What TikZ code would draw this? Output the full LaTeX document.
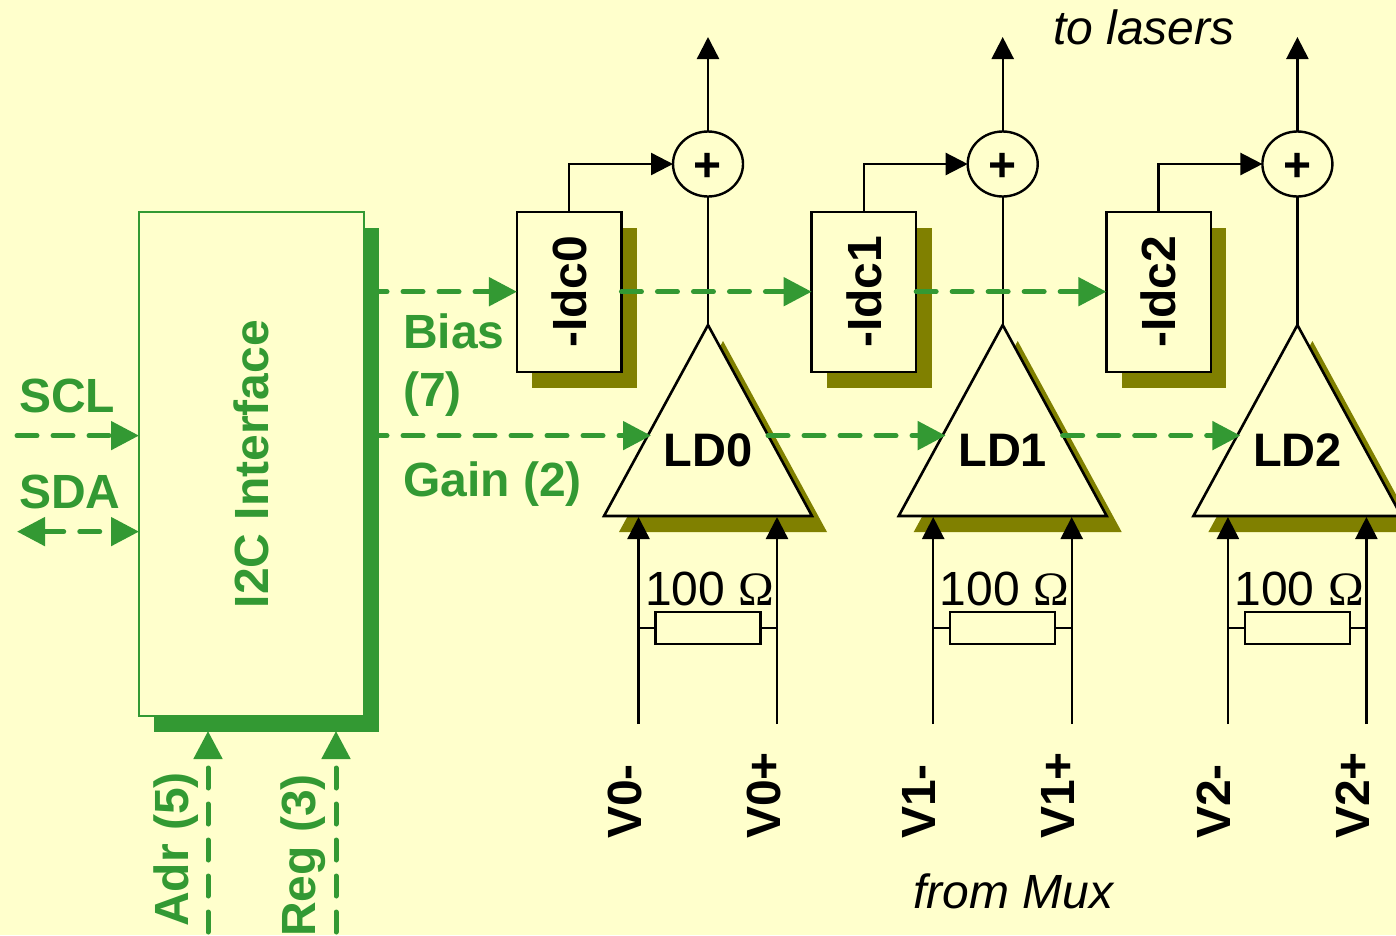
\documentclass[tikz,border=0pt]{standalone}
\usepackage{fontspec}
\setmainfont{Liberation Sans}
\newfontfamily\omegafont{Liberation Serif}
\usetikzlibrary{arrows.meta,shapes.geometric,shadows}
\definecolor{bggelb}{HTML}{FFFFCC}
\definecolor{ifgreen}{HTML}{339933}
\definecolor{ldolive}{HTML}{808000}
\newcommand{\bigtext}{\fontsize{48}{50}\selectfont}
\tikzset{
    wire/.style={line width=2.4pt, -{Triangle[length=22pt,width=22pt]}},
    thinwire/.style={line width=2.2pt},
    bus/.style={ifgreen, line width=5pt, line cap=round, dash pattern=on 20pt off 16pt,
        -{Triangle[length=28pt,width=28pt]}},
    idcbox/.style={draw, line width=2.4pt, fill=bggelb, minimum width=104.5pt, minimum height=160pt,
        inner sep=0pt, outer sep=0pt, font=\bigtext\bfseries,
        general shadow={shadow xshift=15.5pt, shadow yshift=-16pt, fill=ldolive}},
    i2cbox/.style={draw=ifgreen, line width=2pt, fill=bggelb, text=ifgreen, minimum width=225pt,
        minimum height=504pt, inner sep=0pt, outer sep=0pt, font=\bigtext\bfseries,
        general shadow={shadow xshift=15pt, shadow yshift=-16pt, fill=ifgreen}},
    sumnode/.style={draw, ellipse, line width=2.4pt, fill=bggelb, minimum width=70pt, minimum height=65pt,
        inner sep=0pt, outer sep=0pt, font=\bigtext\bfseries},
    resbox/.style={draw, thinwire, fill=bggelb, minimum width=105pt, minimum height=32pt,
        inner sep=0pt, outer sep=0pt},
    lbl/.style={inner sep=0pt, anchor=base west, font=\bigtext},
    grlbl/.style={lbl, text=ifgreen, font=\bigtext\bfseries},
}
\begin{document}
\begin{tikzpicture}[x=1pt, y=-1pt]
    \useasboundingbox (0,0) rectangle (1396,935);
    \clip (0,0) rectangle (1396,935);
    \fill[bggelb] (0,0) rectangle (1396,935);

    % I2C block
    \node[i2cbox] (i2c) at (251.5,464) {\rotatebox{90}{I2C Interface}};

    % the three laser driver channels
    \foreach \i/\x in {0/0, 1/294.7, 2/589.4} {
        \begin{scope}[xshift=\x pt]
            \coordinate (out\i) at (708,37);
            \coordinate (ldtop\i) at (708,325);
            \coordinate (ldin\i) at (651,435.6);
            \coordinate (ldout\i) at (768,435.6);
            \coordinate (ldm\i) at (638.5,517);
            \coordinate (ldp\i) at (777,517);
            \coordinate (vm\i) at (638.5,724);
            \coordinate (vp\i) at (777,724);

            % triangle with its shadow
            \fill[ldolive] (723,341) -- (827,532) -- (619,532) -- cycle;
            \draw[line width=2.6pt, fill=bggelb, line join=miter] (ldtop\i) -- (812,516) -- (604,516) -- cycle;
            \node[inner sep=0pt, font=\fontsize{47}{50}\selectfont\bfseries] (ld\i) at (708,450) {LD\i};

            \node[idcbox] (idc\i) at (569.2,291.7) {\rotatebox{90}{-Idc\i}};
            \node[sumnode] (sum\i) at (708,164) {\raisebox{-3pt}[\height][\depth]{+}};

            \draw[line width=2.4pt] (sum\i.south) -- (ldtop\i);
            \draw[wire] (sum\i.north) -- (out\i);
            \draw[wire] (idc\i.north) |- (sum\i.west);

            % differential inputs with termination
            \draw[wire] (vm\i) -- (ldm\i);
            \draw[wire] (vp\i) -- (ldp\i);
            \node[resbox] (res\i) at (708,628) {};
            \draw[thinwire] (res\i.west) -- (res\i.west -| vm\i);
            \draw[thinwire] (res\i.east) -- (res\i.east -| vp\i);
            \node[lbl] (ohm\i) at (645,605) {100 {\omegafont Ω}};

            \node[lbl, rotate=90, font=\bigtext\bfseries] (vminus\i) at (641,839) {V\i-};
            \node[lbl, rotate=90, font=\bigtext\bfseries] (vplus\i) at (780,839) {V\i+};
        \end{scope}
    }

    % green control lines
    \coordinate (biasout) at ([xshift=3pt]i2c.east |- idc0.west);
    \coordinate (gainout) at ([xshift=3pt]i2c.east |- ldin0);
    \draw[bus] (biasout) -- (idc0.west);
    \draw[bus] (gainout) -- (ldin0);
    \foreach \i/\j in {0/1, 1/2} {
        \draw[bus] (idc\i.east) -- (idc\j.west);
        \draw[bus] (ldout\i) -- (ldin\j);
    }

    % serial lines
    \coordinate (sclin) at (17,435.6);
    \coordinate (sdaout) at (17,531.6);
    \draw[bus] (sclin) -- (sclin -| i2c.west);
    \draw[bus, {Triangle[length=28pt,width=28pt]}-{Triangle[length=28pt,width=28pt]}] (sdaout) -- (sdaout -| i2c.west);

    % address lines
    \coordinate (adrin) at (208,932);
    \coordinate (regin) at (336,932);
    \draw[bus] (adrin) -- (208,731);
    \draw[bus] (regin) -- (336,731);

    % labels
    \node[grlbl] (scl) at (19,412) {SCL};
    \node[grlbl] (sda) at (19,508) {SDA};
    \node[grlbl] (bias) at (403,348) {Bias};
    \node[grlbl] (biasn) at (403,406) {(7)};
    \node[grlbl] (gain) at (403,496) {Gain (2)};
    \node[grlbl, rotate=90] (adr) at (188,927) {Adr (5)};
    \node[grlbl, rotate=90] (reg) at (315,937) {Reg (3)};
    \node[lbl, font=\bigtext\itshape] (lasers) at (1053,44) {to lasers};
    \node[lbl, font=\bigtext\itshape] (mux) at (913,908) {from Mux};
\end{tikzpicture}
\end{document}
